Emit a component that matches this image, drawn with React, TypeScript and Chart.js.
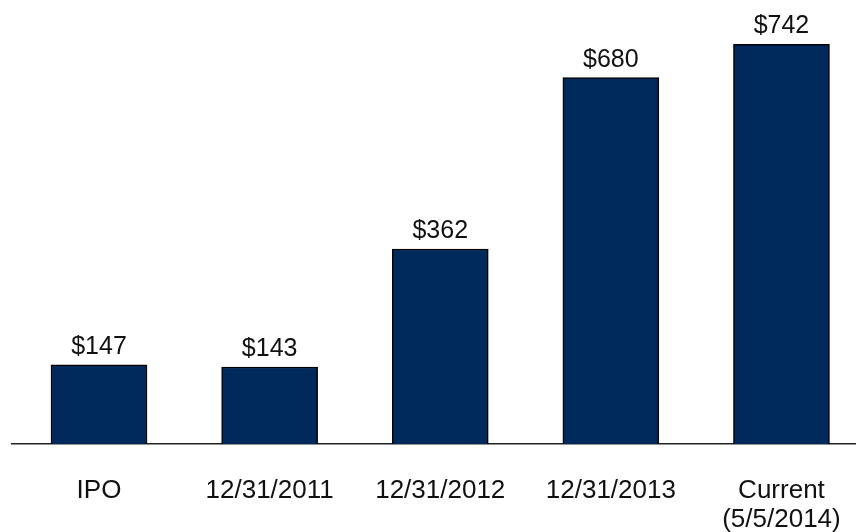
import React, { useEffect, useRef } from "react";
import { Chart, registerables } from "chart.js";

Chart.register(...registerables);

const categories: string[][] = [["IPO"], ["12/31/2011"], ["12/31/2012"], ["12/31/2013"], ["Current", "(5/5/2014)"]];
const values: number[] = [147, 143, 362, 680, 742];
const valueLabels: string[] = ["$147", "$143", "$362", "$680", "$742"];

const FONT = "'Liberation Sans', Arial, sans-serif";

const labelsPlugin = {
  id: "labelsPlugin",
  afterDatasetsDraw(chart: any) {
    const ctx = chart.ctx;
    const meta = chart.getDatasetMeta(0);
    const xScale = chart.scales.x;
    const area = chart.chartArea;
    ctx.save();
    ctx.fillStyle = "#111";
    ctx.textAlign = "center";
    ctx.textBaseline = "alphabetic";
    ctx.font = `25px ${FONT}`;
    meta.data.forEach((bar: any, i: number) => {
      ctx.fillText(valueLabels[i], bar.x, bar.y - 11);
    });
    ctx.font = `26px ${FONT}`;
    categories.forEach((lines, i) => {
      const x = xScale.getPixelForValue(i);
      lines.forEach((line, j) => {
        ctx.fillText(line, x, area.bottom + 54 + j * 29);
      });
    });
    ctx.restore();
  },
};

export default function App() {
  const ref = useRef<HTMLCanvasElement | null>(null);
  useEffect(() => {
    if (!ref.current) return;
    const chart = new Chart(ref.current, {
      type: "bar",
      data: {
        datasets: [
          {
            data: values.map((v, i) => ({ x: i, y: v })),
            backgroundColor: "#002a5c",
            borderColor: "#000",
            borderWidth: 1.5,
            barThickness: 96,
          },
        ],
      },
      options: {
        animation: false,
        responsive: false,
        maintainAspectRatio: false,
        layout: { padding: { left: 12, right: 3, top: 13, bottom: 88 } },
        plugins: { legend: { display: false }, tooltip: { enabled: false } },
        scales: {
          x: {
            type: "linear",
            offset: false,
            min: -0.51,
            max: 4.431,
            grid: { display: false, drawTicks: false },
            ticks: { display: false },
            border: { display: true, color: "#222", width: 1.5 },
          },
          y: {
            display: false,
            min: 0,
            max: 800,
          },
        },
      },
      plugins: [labelsPlugin],
    });
    return () => chart.destroy();
  }, []);
  return (
    <div style={{ position: "fixed", left: 0, top: 0, width: 858, height: 532, background: "#fff" }}>
      <canvas ref={ref} width={858} height={532} style={{ width: 858, height: 532 }} />
    </div>
  );
}
